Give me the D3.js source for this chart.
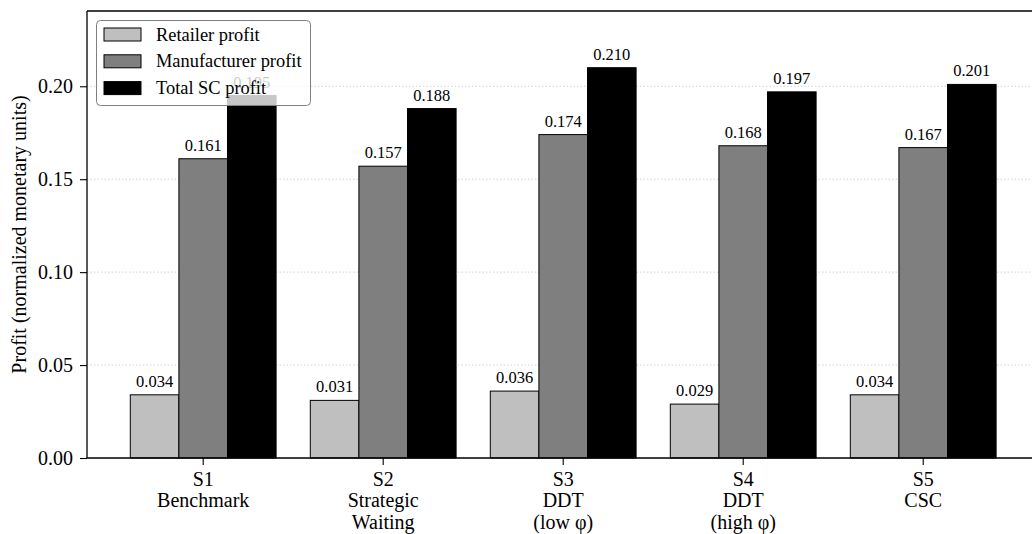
<!DOCTYPE html>
<html><head><meta charset="utf-8">
<script src="https://cdn.jsdelivr.net/npm/d3@7"></script>
<style>
html,body{margin:0;padding:0;background:#fff;}
svg{display:block;}
text{font-family:"Liberation Serif","Times New Roman",serif;fill:#000;}
</style></head>
<body>
<svg id="chart" width="1032" height="534"></svg>
<script>
const categories = [
  ["S1","Benchmark"],
  ["S2","Strategic","Waiting"],
  ["S3","DDT","(low φ)"],
  ["S4","DDT","(high φ)"],
  ["S5","CSC"]
];
const seriesNames = ["Retailer profit","Manufacturer profit","Total SC profit"];
const retailer = [0.034, 0.031, 0.036, 0.029, 0.034];
const manufacturer = [0.161, 0.157, 0.174, 0.168, 0.167];
const total = [0.195, 0.188, 0.210, 0.197, 0.201];
const yTicks = [0.00, 0.05, 0.10, 0.15, 0.20];
const colors = ["#bfbfbf", "#7f7f7f", "#000000"];

(function(){
const seriesValues = [retailer, manufacturer, total];
const catKeys = categories.map(c => c[0]);

const svg = d3.select("#chart");
const pL = 87, pT = 11, pB = 458, pR = 1039.4;

const x0 = d3.scaleBand().domain(catKeys).range([pL, pR]).paddingInner(0.19).paddingOuter(0.2405);
const x1 = d3.scaleBand().domain(seriesNames).range([0, x0.bandwidth()]);
const y = d3.scaleLinear().domain([0, 0.2405]).range([pB, pT]);

// grid
svg.append("g").selectAll("line").data(yTicks.filter(d => d > 0)).join("line")
  .attr("x1", pL).attr("x2", pR)
  .attr("y1", d => y(d)).attr("y2", d => y(d))
  .attr("stroke", "#c8c8c8").attr("stroke-width", 0.8).attr("stroke-dasharray", "1.5,2");

// bars
const data = [];
catKeys.forEach((c, i) => seriesNames.forEach((s, j) => data.push({c, s, j, v: seriesValues[j][i]})));
svg.append("g").selectAll("rect").data(data).join("rect")
  .attr("x", d => x0(d.c) + x1(d.s))
  .attr("y", d => y(d.v))
  .attr("width", x1.bandwidth())
  .attr("height", d => y(0) - y(d.v))
  .attr("fill", d => colors[d.j])
  .attr("stroke", "#000").attr("stroke-width", 1);

// value labels
svg.append("g").selectAll("text").data(data).join("text")
  .attr("x", d => x0(d.c) + x1(d.s) + x1.bandwidth()/2)
  .attr("y", d => y(d.v) - 8)
  .attr("text-anchor", "middle")
  .style("font-size", "16.5px")
  .text(d => d.v.toFixed(3));

// y axis
const yAxis = svg.append("g").attr("transform", `translate(${pL},0)`)
  .call(d3.axisLeft(y).tickValues(yTicks).tickFormat(d3.format(".2f")).tickSize(7).tickPadding(7));
yAxis.select(".domain").remove();
yAxis.selectAll("text").style("font-size", "20px").style("font-family", "Liberation Serif");
yAxis.selectAll("line").attr("stroke-width", 1.1);

// x axis
const xAxis = svg.append("g").attr("transform", `translate(0,${pB})`)
  .call(d3.axisBottom(x0).tickSize(7).tickFormat(""));
xAxis.select(".domain").remove();
xAxis.selectAll("line").attr("stroke-width", 1.1);
xAxis.selectAll(".tick").each(function(d, i) {
  const t = d3.select(this).append("text").attr("text-anchor", "middle")
    .style("font-size", "20px").attr("fill", "#000");
  categories[i].forEach((line, k) => {
    t.append("tspan").attr("x", 0).attr("y", 27.5 + k * 21.5).text(line);
  });
});

// spines
svg.append("line").attr("x1", pL).attr("x2", pL).attr("y1", pT).attr("y2", pB).attr("stroke", "#000").attr("stroke-width", 1.3);
svg.append("line").attr("x1", pL).attr("x2", pR).attr("y1", pB).attr("y2", pB).attr("stroke", "#000").attr("stroke-width", 1.3);
svg.append("line").attr("x1", pL).attr("x2", pR).attr("y1", pT).attr("y2", pT).attr("stroke", "#000").attr("stroke-width", 1.3);

// y label
svg.append("text").attr("transform", `translate(26,${(pT + pB)/2}) rotate(-90)`)
  .attr("text-anchor", "middle").style("font-size", "20px")
  .text("Profit (normalized monetary units)");

// legend
const lg = svg.append("g");
lg.append("rect").attr("x", 96.5).attr("y", 20.5).attr("width", 214).attr("height", 85)
  .attr("rx", 4).attr("fill", "#fff").attr("fill-opacity", 0.78)
  .attr("stroke", "#808080").attr("stroke-width", 1);
seriesNames.forEach((s, j) => {
  const cy = 34.5 + j * 26.8;
  lg.append("rect").attr("x", 104).attr("y", cy - 6.5).attr("width", 37).attr("height", 13)
    .attr("fill", colors[j]).attr("stroke", "#000").attr("stroke-width", 1);
  lg.append("text").attr("x", 156).attr("y", cy + 6).style("font-size", "18.4px").text(s);
});
})();
</script>
</body></html>
